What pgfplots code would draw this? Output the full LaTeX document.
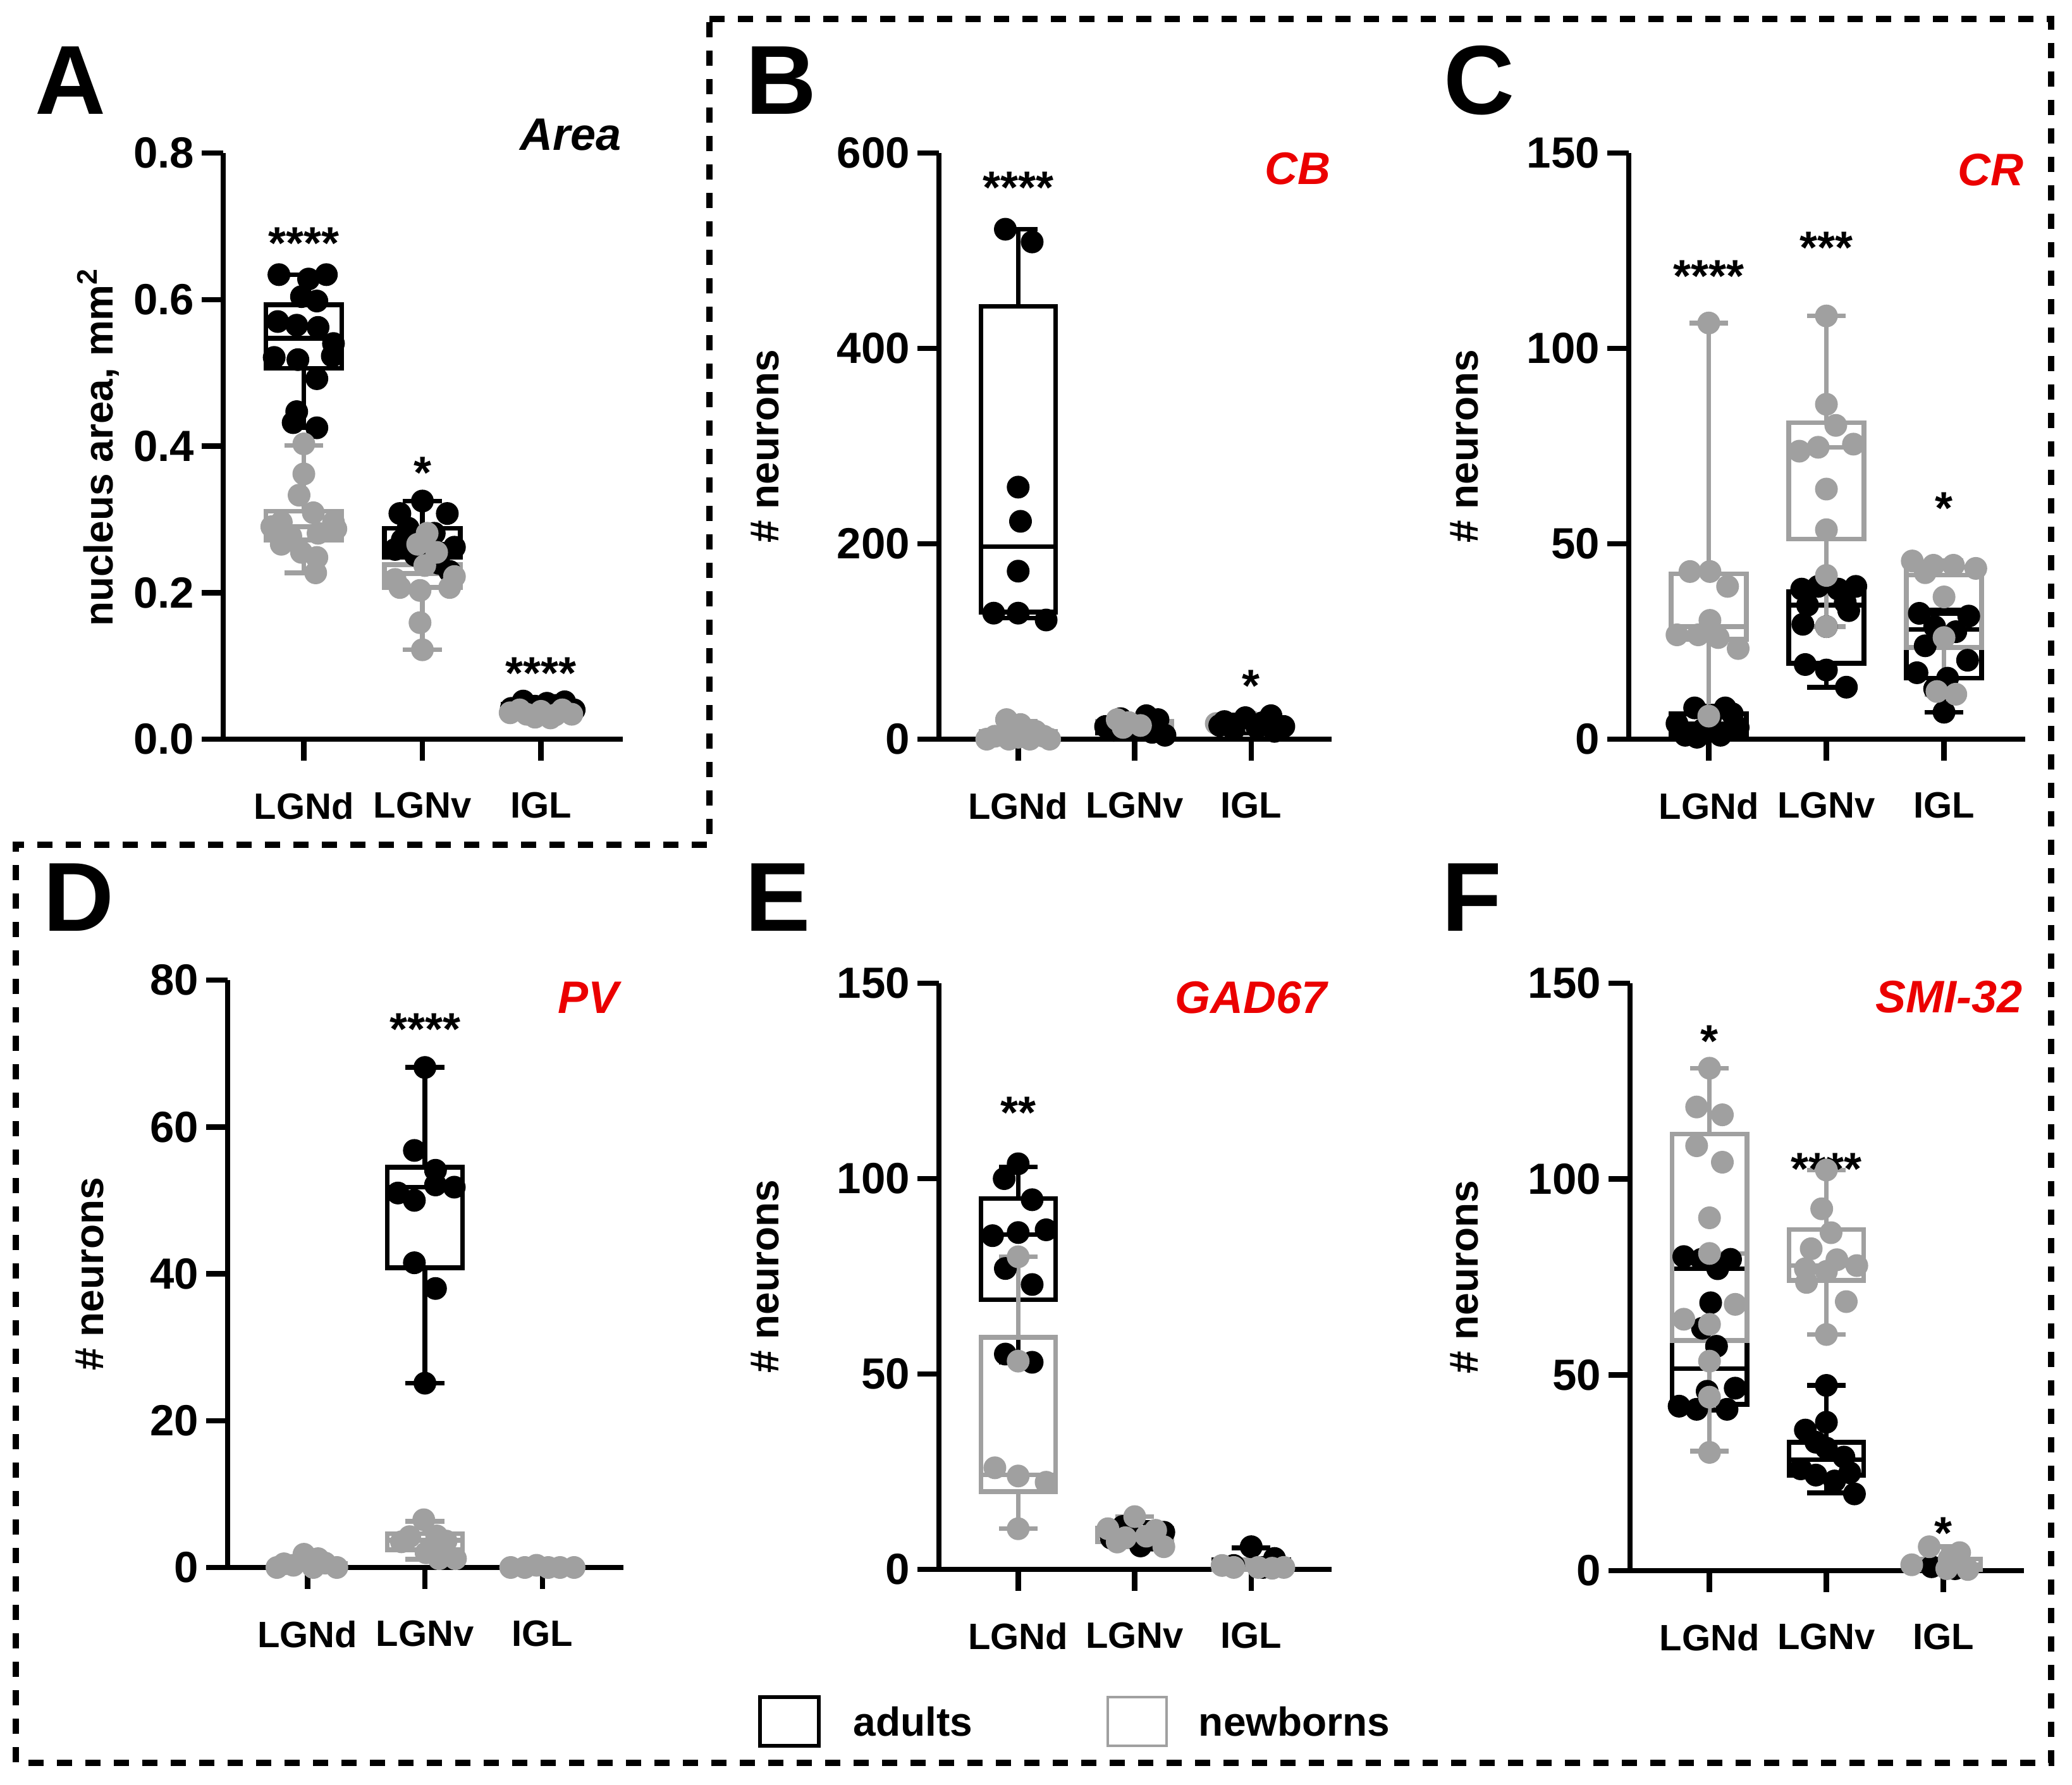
\documentclass[border=0pt]{standalone}
\usepackage{fontspec}
\setmainfont{Liberation Sans}
\usepackage{pgfplots}
\pgfplotsset{compat=1.18}
\usepgfplotslibrary{statistics}
\definecolor{ng}{RGB}{160,160,160}
\definecolor{tred}{RGB}{235,0,0}
\tikzset{
  ttl/.style={font=\fontsize{7.2}{8}\selectfont\bfseries\itshape, anchor=east, inner sep=0pt},
  star/.style={font=\fontsize{7.2}{8}\selectfont\bfseries, anchor=center, inner sep=0pt, yshift=-1.6pt},
}
\pgfplotsset{
  panel/.style={
    scale only axis, clip=false,
    axis x line=bottom, axis y line=left,
    axis line style={line width=0.85pt, -},
    xmin=-0.68, xmax=2.69, ymin=0,
    xtick={0,1,2}, xticklabels={LGNd,LGNv,IGL},
    tick align=outside, major tick length=3.4pt,
    every tick/.style={line width=0.85pt, black},
    xticklabel style={font=\fontsize{5.8}{6}\selectfont\bfseries, yshift=-1.5pt},
    yticklabel style={font=\fontsize{6.9}{7}\selectfont\bfseries, inner sep=1pt},
    every axis y label/.style={rotate=90, anchor=center, font=\fontsize{6.4}{7}\selectfont\bfseries},
    boxplot/draw direction=y,
  },
  blkbox/.style={black, line width=0.75pt, mark=none, boxplot prepared={box extend=0.64, whisker extend=0.33, #1}},
  grybox/.style={ng, line width=0.75pt, mark=none, boxplot prepared={box extend=0.64, whisker extend=0.33, #1}},
  blkpt/.style={only marks, mark=*, mark size=1.6pt, mark options={draw=black, fill=black}},
  grypt/.style={only marks, mark=*, mark size=1.6pt, mark options={draw=ng, fill=ng}},
}
\begin{document}
\begin{tikzpicture}
\useasboundingbox (0,0) rectangle (327.7pt,282.2pt);
% dashed outline
\draw[line width=0.95pt, dash pattern=on 2.4pt off 2.1pt] (112.2pt,279.2pt) -- (324.4pt,279.2pt) -- (324.4pt,3.4pt) -- (2.5pt,3.4pt) -- (2.5pt,148.6pt) -- (112.2pt,148.6pt) -- cycle;
% panel letters
\foreach \l/\x/\y in {A/11.1/269.5, B/123.5/269.5, C/233.9/269.5, D/12.4/140.3, E/123.0/140.3, F/232.8/140.3}
  \node[font=\fontsize{15.5}{16}\selectfont\bfseries, inner sep=0pt] at (\x pt,\y pt) {\l};

% ---------------- A ----------------
\begin{axis}[panel, at={(35.3pt,165.3pt)}, anchor=south west, width=63.2pt, height=92.7pt,
  ymax=0.8, ytick={0,0.2,0.4,0.6,0.8}, yticklabels={0.0,0.2,0.4,0.6,0.8},
  ylabel={nucleus area, mm\textsuperscript{2}}, ylabel style={at={(axis description cs:-0.313,0.5)}}]
\addplot[blkbox={draw position=0, lower whisker=0.425, lower quartile=0.506, median=0.547, upper quartile=0.593, upper whisker=0.634}] coordinates {};
\addplot[blkpt] coordinates {(-0.21,0.634) (0.04,0.628) (0.19,0.634) (0.11,0.598) (-0.02,0.604) (-0.22,0.570) (-0.06,0.565) (0.12,0.562) (0.25,0.540) (0.24,0.523) (-0.25,0.521) (-0.05,0.518) (0.11,0.492) (-0.06,0.447) (-0.09,0.432) (0.11,0.425)};
\addplot[blkbox={draw position=1, lower whisker=0.226, lower quartile=0.248, median=0.266, upper quartile=0.288, upper whisker=0.325}] coordinates {};
\addplot[blkpt] coordinates {(1.0,0.325) (0.81,0.308) (1.21,0.308) (0.88,0.288) (1.10,0.281) (1.27,0.262) (0.77,0.259) (0.94,0.251) (1.14,0.240) (1.23,0.229) (0.83,0.272)};
\addplot[blkbox={draw position=2, lower whisker=0.036, lower quartile=0.040, median=0.044, upper quartile=0.048, upper whisker=0.053}] coordinates {};
\addplot[blkpt] coordinates {(1.85,0.052) (2.05,0.049) (2.2,0.051) (2.28,0.040) (1.95,0.045) (2.12,0.046) (1.75,0.042)};
\addplot[grybox={draw position=0, lower whisker=0.227, lower quartile=0.272, median=0.290, upper quartile=0.311, upper whisker=0.401}] coordinates {};
\addplot[grypt] coordinates {(0,0.403) (0,0.362) (-0.04,0.333) (0.08,0.309) (-0.19,0.296) (0.25,0.296) (0.12,0.281) (-0.11,0.277) (-0.19,0.266) (-0.02,0.255) (0.11,0.248) (0.10,0.227) (-0.27,0.290) (0.27,0.287)};
\addplot[grybox={draw position=1, lower whisker=0.122, lower quartile=0.207, median=0.226, upper quartile=0.238, upper whisker=0.285}] coordinates {};
\addplot[grypt] coordinates {(1.04,0.281) (0.96,0.266) (1.12,0.255) (1.02,0.237) (0.81,0.207) (0.98,0.203) (1.23,0.207) (0.77,0.218) (1.27,0.222) (0.98,0.159) (1.0,0.122)};
\addplot[grybox={draw position=2, lower whisker=0.028, lower quartile=0.032, median=0.036, upper quartile=0.040, upper whisker=0.046}] coordinates {};
\addplot[grypt] coordinates {(1.74,0.036) (1.88,0.034) (2.0,0.038) (2.12,0.033) (2.26,0.034) (1.95,0.030) (2.18,0.040) (1.82,0.040) (2.08,0.029)};
\node[ttl] at (axis cs:2.69,0.825) {Area};
\node[star] at (axis cs:0,0.691) {****};
\node[star] at (axis cs:1,0.377) {*};
\node[star] at (axis cs:2,0.1035) {****};
\end{axis}

% ---------------- B ----------------
\begin{axis}[panel, at={(148.5pt,165.3pt)}, anchor=south west, width=62.1pt, height=92.7pt,
  ymax=600, ytick={0,200,400,600}, yticklabels={0,200,400,600},
  ylabel={\# neurons}, ylabel style={at={(axis description cs:-0.442,0.5)}}]
\addplot[blkbox={draw position=0, lower whisker=124, lower quartile=130, median=197, upper quartile=443, upper whisker=522}] coordinates {};
\addplot[blkpt] coordinates {(-0.11,522) (0.12,509) (0,258) (0.02,223) (0,172) (-0.21,129) (0,129) (0.24,122)};
\addplot[blkbox={draw position=1, lower whisker=3, lower quartile=6, median=11, upper quartile=17, upper whisker=24}] coordinates {};
\addplot[blkpt] coordinates {(0.88,21) (1.1,24) (1.2,20) (0.82,9) (1.26,4) (1.05,12) (0.95,15) (1.15,7) (0.75,13)};
\addplot[grybox={draw position=0, lower whisker=0, lower quartile=0, median=2, upper quartile=8, upper whisker=18}] coordinates {};
\addplot[grypt] coordinates {(-0.1,20) (0.02,15) (-0.2,3) (0.22,3) (0,2) (-0.08,0) (0.1,0) (0.27,0) (-0.27,0) (0.15,8)};
\addplot[grybox={draw position=1, lower whisker=8, lower quartile=12, median=15, upper quartile=18, upper whisker=22}] coordinates {};
\addplot[grypt] coordinates {(0.85,20) (0.95,17) (1.05,14) (0.9,12)};
\addplot[grybox={draw position=2, lower whisker=8, lower quartile=10, median=13, upper quartile=16, upper whisker=20}] coordinates {};
\addplot[grypt] coordinates {(1.7,16) (1.8,14) (2.0,18)};
\addplot[blkbox={draw position=2, lower whisker=6, lower quartile=9, median=14, upper quartile=17, upper whisker=25}] coordinates {};
\addplot[blkpt] coordinates {(1.77,18) (1.95,22) (2.17,24) (2.28,13) (1.85,10) (2.05,12) (2.2,8) (2.1,17) (1.73,14)};
\node[ttl, text=tred] at (axis cs:2.69,584) {CB};
\node[star] at (axis cs:0,575) {****};
\node[star] at (axis cs:2,65) {*};
\end{axis}

% ---------------- C ----------------
\begin{axis}[panel, at={(257.6pt,165.3pt)}, anchor=south west, width=62.7pt, height=92.7pt,
  ymax=150, ytick={0,50,100,150}, yticklabels={0,50,100,150},
  ylabel={\# neurons}, ylabel style={at={(axis description cs:-0.415,0.5)}}]
\addplot[blkbox={draw position=0, lower whisker=0, lower quartile=1, median=4, upper quartile=6.5, upper whisker=8.5}] coordinates {};
\addplot[blkpt] coordinates {(-0.12,8) (0.14,8) (-0.27,4) (-0.05,2.5) (0.25,3) (-0.2,1) (0.1,1) (0.02,6) (0.2,6.5) (-0.1,0.5)};
\addplot[blkbox={draw position=1, lower whisker=13.3, lower quartile=19.4, median=34.3, upper quartile=37.7, upper whisker=39.8}] coordinates {};
\addplot[blkpt] coordinates {(0.79,38.4) (0.93,39.1) (1.1,38.4) (1.25,39.1) (0.84,34.3) (1.19,32.9) (0.8,29.4) (1.0,28.8) (1.16,35) (0.82,19.1) (1.0,17.7) (1.17,13.3)};
\addplot[blkbox={draw position=2, lower whisker=6.9, lower quartile=15.6, median=28.1, upper quartile=32.2, upper whisker=33}] coordinates {};
\addplot[blkpt] coordinates {(1.79,32.2) (2.21,31.5) (1.92,28.8) (2.1,27.5) (1.84,23.9) (2.2,20.2) (1.77,17) (2.03,15.6) (1.92,12.9) (2,6.9)};
\addplot[grybox={draw position=0, lower whisker=5.9, lower quartile=25.6, median=28.8, upper quartile=42.3, upper whisker=106.5}] coordinates {};
\addplot[grypt] coordinates {(0,106.5) (-0.16,42.9) (0.01,42.9) (0.16,39.1) (0.01,30.4) (-0.27,26.7) (-0.09,26.7) (0.08,26) (0.25,23.2) (0,5.9)};
\addplot[grybox={draw position=1, lower whisker=28.8, lower quartile=51.2, median=74.7, upper quartile=81, upper whisker=108.3}] coordinates {};
\addplot[grypt] coordinates {(1,108.3) (1,85.7) (1.08,80.3) (0.77,73.7) (0.93,74.7) (1.23,75.5) (1,64) (1,53.6) (1,41.9) (1,28.8)};
\addplot[grybox={draw position=2, lower whisker=11.5, lower quartile=23.5, median=42, upper quartile=44, upper whisker=45.6}] coordinates {};
\addplot[grypt] coordinates {(1.73,45.6) (1.91,44.5) (2.08,44.5) (2.27,43.7) (1.84,42.6) (2,36.4) (2,26) (1.94,12.2) (2.1,11.5)};
\node[ttl, text=tred] at (axis cs:2.69,145.6) {CR};
\node[star] at (axis cs:0,121.1) {****};
\node[star] at (axis cs:1,128.3) {***};
\node[star] at (axis cs:2,61.7) {*};
\end{axis}

% ---------------- D ----------------
\begin{axis}[panel, at={(36.0pt,34.3pt)}, anchor=south west, width=62.6pt, height=92.9pt,
  ymax=80, ytick={0,20,40,60,80}, yticklabels={0,20,40,60,80},
  ylabel={\# neurons}, ylabel style={at={(axis description cs:-0.348,0.5)}}]
\addplot[blkbox={draw position=1, lower whisker=25.1, lower quartile=40.8, median=51.8, upper quartile=54.5, upper whisker=68.1}] coordinates {};
\addplot[blkpt] coordinates {(1,68.1) (0.91,56.8) (1.09,54.1) (0.77,51) (1.09,52.1) (1.25,51.8) (0.91,50) (0.91,41.5) (1.09,38) (1,25.1)};
\addplot[grybox={draw position=0, lower whisker=0, lower quartile=0, median=0, upper quartile=0.5, upper whisker=1.5}] coordinates {};
\addplot[grypt] coordinates {(-0.03,1.8) (0.09,1.2) (-0.26,0) (0.25,0) (-0.12,0.3) (0.15,0.6) (0.05,0) (-0.2,0.5)};
\addplot[grybox={draw position=1, lower whisker=1.1, lower quartile=2.4, median=3.7, upper quartile=4.6, upper whisker=6.3}] coordinates {};
\addplot[grypt] coordinates {(0.99,6.5) (0.87,4.2) (1.1,4.3) (1.18,3.6) (1.01,2) (1.12,1.2) (1.26,1.2) (0.8,3.5)};
\addplot[grybox={draw position=2, lower whisker=0, lower quartile=0, median=0, upper quartile=0, upper whisker=0}] coordinates {};
\addplot[grypt] coordinates {(1.73,0) (1.85,0) (1.95,0.3) (2.05,0) (2.15,0) (2.27,0)};
\node[ttl, text=tred] at (axis cs:2.66,77.6) {PV};
\node[star] at (axis cs:1,74.7) {****};
\end{axis}

% ---------------- E ----------------
\begin{axis}[panel, at={(148.5pt,34.0pt)}, anchor=south west, width=62.1pt, height=92.7pt,
  ymax=150, ytick={0,50,100,150}, yticklabels={0,50,100,150},
  ylabel={\# neurons}, ylabel style={at={(axis description cs:-0.442,0.5)}}]
\addplot[blkbox={draw position=0, lower whisker=53, lower quartile=69, median=85.7, upper quartile=94.9, upper whisker=103}] coordinates {};
\addplot[blkpt] coordinates {(0,103.8) (-0.12,100) (0.12,94.6) (-0.22,85.4) (0,86.2) (0.24,86.9) (-0.11,77) (0.12,72.9) (-0.11,55.1) (0.12,53)};
\addplot[blkbox={draw position=1, lower whisker=6, lower quartile=7, median=8.5, upper quartile=10, upper whisker=12}] coordinates {};
\addplot[blkpt] coordinates {(0.8,8) (0.95,9) (1.15,7.5) (1.25,9.5) (0.9,11) (1.05,6)};
\addplot[blkbox={draw position=2, lower whisker=0, lower quartile=0.5, median=1, upper quartile=2.5, upper whisker=5.5}] coordinates {};
\addplot[blkpt] coordinates {(2,5.8) (2.2,2.8) (1.85,1) (2.1,0.5)};
\addplot[grybox={draw position=0, lower whisker=10.4, lower quartile=19.9, median=24.2, upper quartile=59.4, upper whisker=80}] coordinates {};
\addplot[grypt] coordinates {(0,80) (0,53.3) (-0.2,26) (0,23.9) (0.24,22.3) (0,10.4)};
\addplot[grybox={draw position=1, lower whisker=5.8, lower quartile=7, median=8.5, upper quartile=10.5, upper whisker=13.5}] coordinates {};
\addplot[grypt] coordinates {(1,13.5) (0.77,10.4) (0.92,8.1) (1.25,5.8) (1.1,8.5) (0.85,7) (1.18,10)};
\addplot[grybox={draw position=2, lower whisker=0, lower quartile=0, median=0.5, upper quartile=1.5, upper whisker=2.5}] coordinates {};
\addplot[grypt] coordinates {(1.85,0.5) (2.06,0.5) (2.28,0.5) (1.75,1) (2.18,0.3)};
\node[ttl, text=tred] at (axis cs:2.66,146.3) {GAD67};
\node[star] at (axis cs:0,119.4) {**};
\end{axis}

% ---------------- F ----------------
\begin{axis}[panel, at={(257.8pt,33.8pt)}, anchor=south west, width=62.3pt, height=92.9pt,
  ymax=150, ytick={0,50,100,150}, yticklabels={0,50,100,150},
  ylabel={\# neurons}, ylabel style={at={(axis description cs:-0.42,0.5)}}]
\addplot[blkbox={draw position=0, lower whisker=41, lower quartile=42.5, median=51.6, upper quartile=77.1, upper whisker=80.2}] coordinates {};
\addplot[blkpt] coordinates {(-0.22,80.2) (-0.07,79.5) (0.07,77.1) (0.18,79.5) (0.01,68.4) (-0.06,61.9) (0.06,57.3) (-0.26,42) (-0.11,41.2) (0.15,41.2) (-0.02,45.8) (0.22,46.6)};
\addplot[blkbox={draw position=1, lower whisker=19.9, lower quartile=24.4, median=28.3, upper quartile=32.8, upper whisker=47.3}] coordinates {};
\addplot[blkpt] coordinates {(1,47.3) (0.82,35.9) (1,37.9) (0.91,32.8) (1.15,29) (0.78,26) (0.91,24.4) (1.07,22.9) (1.24,19.6) (1,31.3) (1.2,25)};
\addplot[blkbox={draw position=2, lower whisker=0, lower quartile=0, median=0.5, upper quartile=1, upper whisker=2}] coordinates {};
\addplot[blkpt] coordinates {(1.9,1) (2.1,0.5)};
\addplot[grybox={draw position=0, lower whisker=30.5, lower quartile=58.8, median=81, upper quartile=111.5, upper whisker=128.3}] coordinates {};
\addplot[grypt] coordinates {(0,128.3) (-0.11,118.4) (0.11,116.4) (-0.11,108.5) (0.11,104.3) (0,90.1) (0,81) (-0.22,64.2) (0.22,68) (0,62.9) (0,53.5) (0,44.3) (0,30.2)};
\addplot[grybox={draw position=1, lower whisker=60.3, lower quartile=74.1, median=77.9, upper quartile=87.1, upper whisker=102.3}] coordinates {};
\addplot[grypt] coordinates {(1,102.3) (0.96,92.4) (1.04,86.3) (0.87,82.2) (1.09,79.4) (0.82,77.1) (1.26,77.9) (1,76.4) (0.83,73.6) (1.17,68.7) (1,60.3)};
\addplot[grybox={draw position=2, lower whisker=0, lower quartile=0.3, median=1.5, upper quartile=3, upper whisker=6.1}] coordinates {};
\addplot[grypt] coordinates {(1.88,6.1) (2.14,4.6) (1.73,1.5) (2.03,0.5) (2.21,0.3) (2.05,3)};
\node[ttl, text=tred] at (axis cs:2.69,146.5) {SMI-32};
\node[star] at (axis cs:0,137.8) {*};
\node[star] at (axis cs:1,105.1) {****};
\node[star] at (axis cs:2,12.2) {*};
\end{axis}

% legend
\draw[line width=0.55pt, black] (120.2pt,6.1pt) rectangle (129.5pt,13.8pt);
\node[anchor=west, inner sep=0pt, font=\fontsize{6.4}{7}\selectfont\bfseries] at (134.8pt,9.9pt) {adults};
\draw[line width=0.45pt, ng] (175.2pt,6.1pt) rectangle (184.5pt,13.8pt);
\node[anchor=west, inner sep=0pt, font=\fontsize{6.4}{7}\selectfont\bfseries] at (189.4pt,9.9pt) {newborns};
\end{tikzpicture}
\end{document}
